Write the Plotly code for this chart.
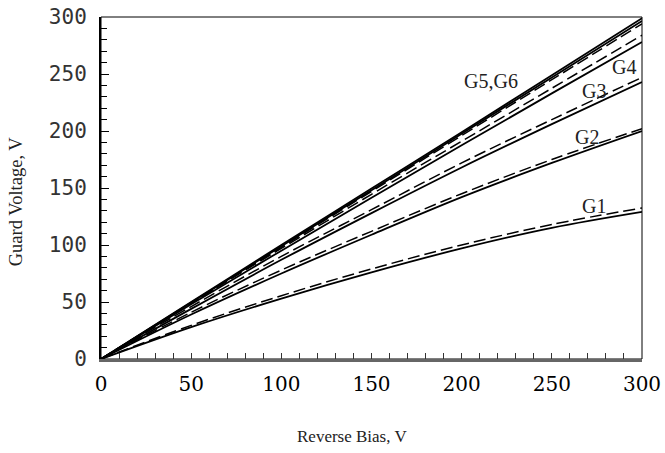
import plotly.graph_objects as go

# Reverse bias (V)
bias = [0, 50, 100, 150, 200, 250, 300]

# Guard voltages (V) - solid (measured) curves
g1_solid = [0, 28, 53, 76, 97, 115, 129]
g2_solid = [0, 39, 75, 109, 142, 172, 200]
g3_solid = [0, 44, 87, 128, 168, 206, 243]
g4_solid = [0, 48, 95, 141.5, 187.5, 233, 278]
g5_solid = [0, 49.5, 99, 148, 197.5, 247, 296.5]
g6_solid = [0, 50, 100, 149.5, 199, 249, 299]

# Guard voltages (V) - dashed (calculated) curves
g1_dash = [0, 29.5, 55.5, 79, 100, 118, 132.5]
g2_dash = [0, 41, 78, 112, 145, 175, 202]
g3_dash = [0, 46, 90, 131, 172, 210, 247]
g4_dash = [0, 49, 97, 144.5, 191, 237.5, 284]
g56_dash = [0, 49, 98, 147, 196, 245, 294]

x_ticks = [0, 50, 100, 150, 200, 250, 300]
y_ticks = [0, 50, 100, 150, 200, 250, 300]

solid_series = [g1_solid, g2_solid, g3_solid, g4_solid, g5_solid, g6_solid]
dash_series = [g1_dash, g2_dash, g3_dash, g4_dash, g56_dash]

fig = go.Figure()
for ys in dash_series:
    fig.add_trace(go.Scatter(x=bias, y=ys, mode="lines", line_shape="spline",
                             line=dict(color="black", width=1.5, dash="12px,5px"),
                             showlegend=False, hoverinfo="skip"))
for ys in solid_series:
    fig.add_trace(go.Scatter(x=bias, y=ys, mode="lines", line_shape="spline",
                             line=dict(color="black", width=1.8),
                             showlegend=False, hoverinfo="skip"))

serif = "Liberation Serif"
labels = [("G5,G6", 216, 244), ("G4", 290, 256), ("G3", 273.5, 235.5),
          ("G2", 269.5, 195), ("G1", 273.5, 134)]
for txt, lx, ly in labels:
    fig.add_annotation(x=lx, y=ly, text=txt, showarrow=False,
                       font=dict(family=serif, size=20, color="#222"))

fig.add_annotation(xref="paper", yref="paper", x=(352 - 101) / 541, y=-0.228,
                   text="Reverse Bias, V", showarrow=False, yanchor="middle",
                   font=dict(family=serif, size=17, color="#222"))
fig.add_annotation(xref="paper", yref="paper", x=-0.18, y=0.46, textangle=-90,
                   text="Guard Voltage, V", showarrow=False,
                   font=dict(family=serif, size=18.5, color="#222"))

fig.add_shape(type="rect", xref="paper", yref="paper", x0=0, x1=1, y0=0, y1=1,
              line=dict(color="black", width=1), layer="below")

fig.update_layout(
    width=665, height=453,
    margin=dict(l=101, r=23, t=17, b=94),
    plot_bgcolor="white", paper_bgcolor="white",
    xaxis=dict(range=[0, 300], tickvals=x_ticks, ticktext=[str(v) for v in x_ticks],
               automargin=False,
               ticks="inside", ticklen=6, tickcolor="#333", tickwidth=1.2,
               minor=dict(dtick=10, tick0=0, ticks="inside", ticklen=6, tickcolor="#333", tickwidth=1.2),
               showline=True, linecolor="#666", linewidth=2.5, showgrid=False, zeroline=False,
               tickfont=dict(family="DejaVu Serif", size=20, color="black"),
               ticklabelstandoff=5),
    yaxis=dict(range=[0, 300], tickvals=y_ticks, ticktext=[str(v) for v in y_ticks],
               automargin=False,
               ticks="inside", ticklen=8, tickcolor="black", tickwidth=1.2,
               minor=dict(dtick=10, tick0=0, ticks="inside", ticklen=6, tickcolor="black", tickwidth=1.2),
               showline=True, linecolor="black", linewidth=2, showgrid=False, zeroline=False,
               tickfont=dict(family="DejaVu Sans Mono", size=21, color="#333"),
               ticklabelstandoff=8),
)

fig.write_html("out.html")
